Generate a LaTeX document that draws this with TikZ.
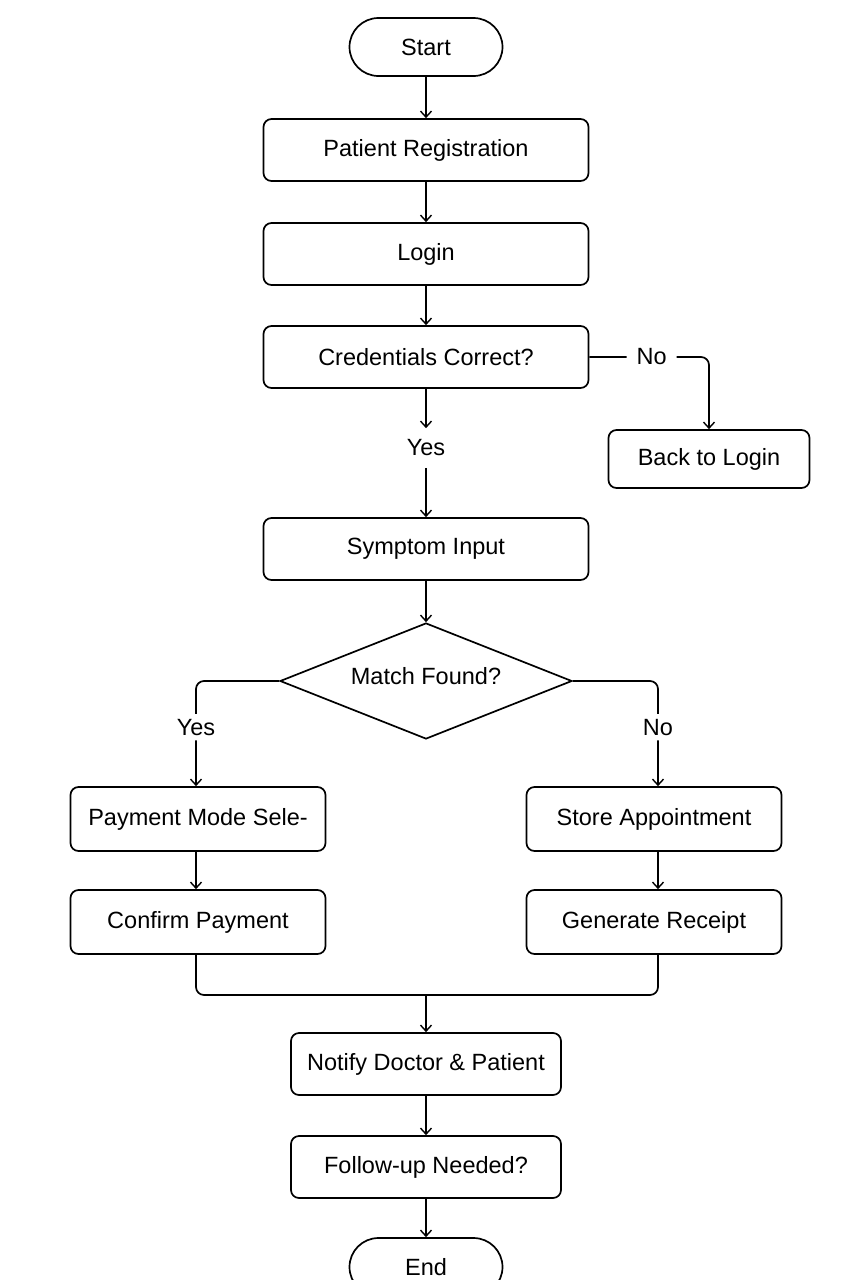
\documentclass[tikz,border=0pt]{standalone}
\usepackage{fontspec}
\setmainfont{Liberation Sans}
\usetikzlibrary{arrows.meta,shapes.geometric}
\begin{document}
\begin{tikzpicture}[x=1pt,y=-1pt,
  line width=1.7pt,
  font=\fontsize{23.5}{27}\selectfont,
  box/.style={draw, rounded corners=8pt, minimum width=325pt, minimum height=62pt, inner sep=0pt},
  sbox/.style={draw, rounded corners=8pt, minimum width=255pt, minimum height=64pt, inner sep=0pt},
  mbox/.style={draw, rounded corners=8pt, minimum width=270pt, minimum height=62pt, inner sep=0pt},
  termbox/.style={draw, rounded corners=29pt, minimum width=153pt, minimum height=58pt, inner sep=0pt},
  dec/.style={draw, diamond, minimum width=292pt, minimum height=116pt, inner sep=0pt},
  lbl/.style={fill=white, inner xsep=10pt, inner ysep=5pt},
  arr/.style={-{Straight Barb[length=6pt,width=11pt,line width=1.4pt]}},
]
\useasboundingbox (0,0) rectangle (853,1280);
\node[termbox] (start) at (426,47) {Start};
\node[box] (reg) at (426,150) {Patient Registration};
\node[box] (login) at (426,254) {Login};
\node[box] (cred) at (426,357) {Credentials Correct?};
\node[draw, rounded corners=8pt, minimum width=201pt, minimum height=58pt, inner sep=0pt] (back) at (709,459) {Back to Login};
\node[inner sep=0pt, minimum height=38pt] (yes1) at (426,448) {Yes};
\node[box] (sym) at (426,549) {Symptom Input};
\node[dec] (match) at (426,681) {};
\node (mtext) at (426,676) {Match Found?};
\node[sbox] (pay) at (198,819) {Payment Mode Sele-};
\node[sbox] (conf) at (198,922) {Confirm Payment};
\node[sbox] (store) at (654,819) {Store Appointment};
\node[sbox] (gen) at (654,922) {Generate Receipt};
\node[mbox] (notify) at (426,1064) {Notify Doctor \& Patient};
\node[mbox] (follow) at (426,1167) {Follow-up Needed?};
\node[termbox] (end) at (426,1267) {End};
\coordinate (merge) at (426,995);

\draw[arr] (start) -- (reg);
\draw[arr] (reg) -- (login);
\draw[arr] (login) -- (cred);
\draw[arr] (cred) -- (yes1);
\draw[arr] (yes1) -- (sym);
\draw[arr, rounded corners=8pt] (cred.east) -| node[lbl, pos=0.26] {No} (back.north);
\draw[arr] (sym) -- (match.north);
\draw[arr, rounded corners=8pt] (match.west) -| node[lbl, pos=0.72] {Yes} ([xshift=-2pt]pay.north);
\draw[arr, rounded corners=8pt] (match.east) -| node[lbl, pos=0.72] {No} ([xshift=4pt]store.north);
\draw[arr] ([xshift=-2pt]pay.south) -- ([xshift=-2pt]conf.north);
\draw[arr] ([xshift=4pt]store.south) -- ([xshift=4pt]gen.north);
\draw[rounded corners=8pt] ([xshift=-2pt]conf.south) |- (merge) -| ([xshift=4pt]gen.south);
\draw[arr] (merge) -- (notify);
\draw[arr] (notify) -- (follow);
\draw[arr] (follow) -- (end);
\end{tikzpicture}
\end{document}
